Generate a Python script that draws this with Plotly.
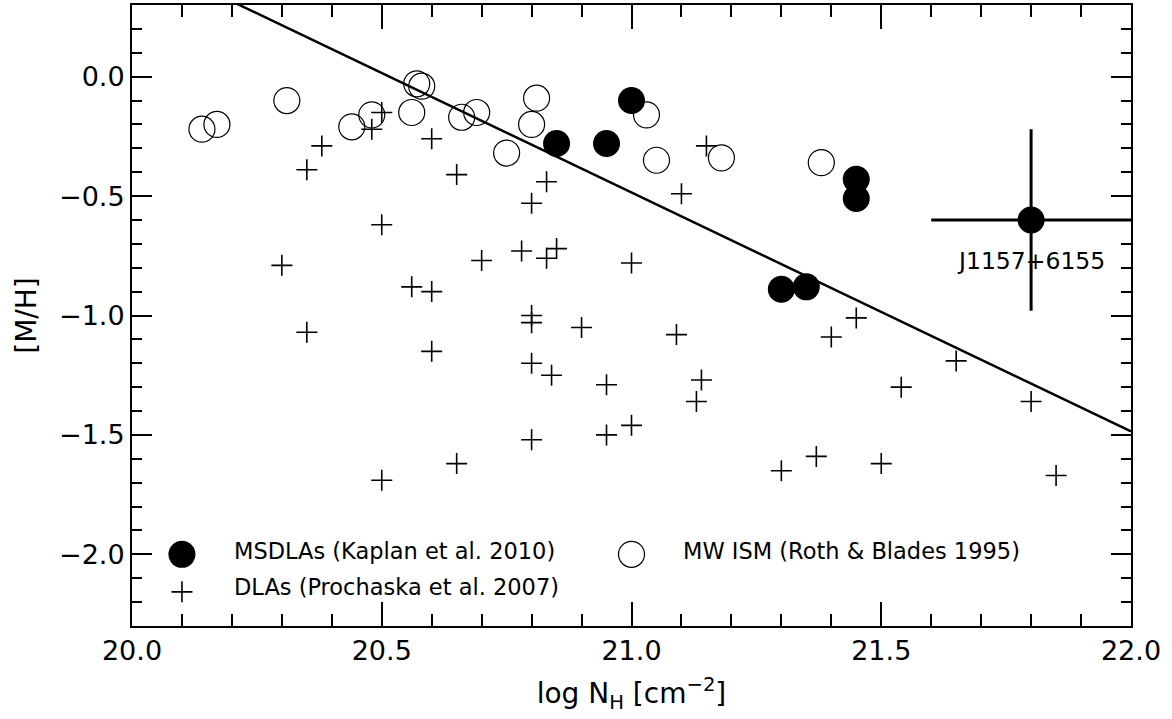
import plotly.graph_objects as go

# MSDLAs (Kaplan et al. 2010)
msdla_x = [20.85, 20.95, 21.00, 21.45, 21.45, 21.30, 21.35]
msdla_y = [-0.28, -0.28, -0.10, -0.43, -0.51, -0.89, -0.88]

# J1157+6155 with error bars
j_x = [21.80]
j_y = [-0.60]
j_ex = [0.20]
j_ey = [0.38]
j_label = "J1157+6155"

# MW ISM (Roth & Blades 1995)
mw_x = [20.14, 20.17, 20.31, 20.44, 20.48, 20.56, 20.57, 20.58, 20.66, 20.69,
        20.75, 20.80, 20.81, 21.03, 21.05, 21.18, 21.38]
mw_y = [-0.22, -0.20, -0.10, -0.21, -0.16, -0.15, -0.03, -0.04, -0.17, -0.15,
        -0.32, -0.20, -0.09, -0.16, -0.35, -0.34, -0.36]

# DLAs (Prochaska et al. 2007)
dla_x = [20.48, 20.50, 20.38, 20.35, 20.60, 20.65, 20.83, 20.80, 20.50, 20.78,
         20.85, 20.83, 20.70, 20.30, 21.00, 20.56, 20.60, 20.80, 20.80, 20.90,
         20.35, 21.09, 20.60, 20.80, 20.84, 20.95, 21.14, 21.13, 21.00, 20.95,
         20.80, 20.65, 20.50, 21.30, 21.37, 21.50, 21.54, 21.65, 21.80, 21.85,
         21.45, 21.40, 21.15, 21.10]
dla_y = [-0.22, -0.15, -0.29, -0.39, -0.26, -0.41, -0.44, -0.53, -0.62, -0.73,
         -0.72, -0.76, -0.77, -0.79, -0.78, -0.88, -0.90, -1.00, -1.03, -1.05,
         -1.07, -1.08, -1.15, -1.20, -1.25, -1.29, -1.27, -1.36, -1.46, -1.50,
         -1.52, -1.62, -1.69, -1.65, -1.59, -1.62, -1.30, -1.19, -1.36, -1.67,
         -1.01, -1.09, -0.29, -0.49]

# Reference line
line_x = [20.0, 22.0]
line_y = [0.515, -1.485]

legend_labels = ["MSDLAs (Kaplan et al. 2010)", "DLAs (Prochaska et al. 2007)",
                 "MW ISM (Roth & Blades 1995)"]

FONT = "DejaVu Sans"
fig = go.Figure()

fig.add_trace(go.Scatter(x=line_x, y=line_y, mode="lines",
                         line=dict(color="black", width=2.5), hoverinfo="skip"))
fig.add_trace(go.Scatter(x=dla_x, y=dla_y, mode="markers",
                         marker=dict(symbol="cross-thin", size=15,
                                     line=dict(color="black", width=1.6))))
fig.add_trace(go.Scatter(x=mw_x, y=mw_y, mode="markers",
                         marker=dict(symbol="circle-open", size=26, color="black",
                                     line=dict(color="black", width=1.2))))
fig.add_trace(go.Scatter(x=msdla_x, y=msdla_y, mode="markers",
                         marker=dict(symbol="circle", size=27, color="black")))
fig.add_trace(go.Scatter(x=j_x, y=j_y, mode="markers",
                         marker=dict(symbol="circle", size=27, color="black"),
                         error_x=dict(type="data", array=j_ex, color="black", thickness=3, width=0),
                         error_y=dict(type="data", array=j_ey, color="black", thickness=3, width=0)))

# Legend keys (drawn inside the plot like the original)
fig.add_trace(go.Scatter(x=[20.10], y=[-2.0], mode="markers", hoverinfo="skip",
                         marker=dict(symbol="circle", size=27, color="black")))
fig.add_trace(go.Scatter(x=[20.10], y=[-2.157], mode="markers", hoverinfo="skip",
                         marker=dict(symbol="cross-thin", size=15,
                                     line=dict(color="black", width=1.6))))
fig.add_trace(go.Scatter(x=[21.0], y=[-2.0], mode="markers", hoverinfo="skip",
                         marker=dict(symbol="circle-open", size=26, color="black",
                                     line=dict(color="black", width=1.2))))

ann_font = dict(family=FONT, size=22.5, color="black")
fig.add_annotation(x=20.20, y=-1.985, text=legend_labels[0], showarrow=False,
                   xanchor="left", yanchor="middle", font=ann_font)
fig.add_annotation(x=20.20, y=-2.135, text=legend_labels[1], showarrow=False,
                   xanchor="left", yanchor="middle", font=ann_font)
fig.add_annotation(x=21.10, y=-1.985, text=legend_labels[2], showarrow=False,
                   xanchor="left", yanchor="middle", font=ann_font)
fig.add_annotation(x=j_x[0], y=-0.77, text=j_label, showarrow=False,
                   xanchor="center", yanchor="middle",
                   font=dict(family=FONT, size=23.5, color="black"))

fig.update_layout(
    width=1172, height=719,
    margin=dict(l=132, r=41, t=3, b=93),
    plot_bgcolor="white", paper_bgcolor="white",
    showlegend=False,
    font=dict(family=FONT, size=27, color="black"),
)
fig.update_xaxes(
    range=[20.0, 22.0], showgrid=False, zeroline=False,
    showline=True, linecolor="black", linewidth=2, mirror="allticks",
    ticks="inside", tick0=20.0, dtick=0.5, ticklen=24, tickwidth=2, tickcolor="black",
    tickformat=".1f",
    minor=dict(ticks="inside", dtick=0.1, ticklen=12, tickwidth=2, tickcolor="black", showgrid=False),
    title=dict(text="log N<sub>H</sub> [cm<sup>−2</sup>]", font=dict(family=FONT, size=28), standoff=18),
)
fig.update_yaxes(
    range=[-2.3, 0.3], showgrid=False, zeroline=False,
    showline=True, linecolor="black", linewidth=2, mirror="allticks",
    ticks="inside", tick0=0.0, dtick=0.5, ticklen=20, tickwidth=2, tickcolor="black",
    tickformat=".1f",
    minor=dict(ticks="inside", dtick=0.1, ticklen=10, tickwidth=2, tickcolor="black", showgrid=False),
    title=dict(text="[M/H]", font=dict(family=FONT, size=28), standoff=14),
)

fig.write_html("out.html", config={"displayModeBar": False},
               post_script="document.body.style.margin='0px';")
